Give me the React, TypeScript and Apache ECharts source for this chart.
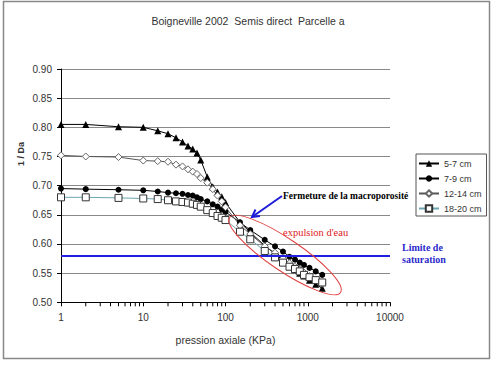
import React, { useEffect, useRef } from "react";
import * as echarts from "echarts";

const TITLE = "Boigneville 2002  Semis direct  Parcelle a";
const X_NAME = "pression axiale (KPa)";
const Y_NAME = "1 / Da";
const SERIES_NAMES = ["5-7 cm", "7-9 cm", "12-14 cm", "18-20 cm"];

const PRESSURE = [1, 2, 5, 10, 15, 20, 25, 30, 35, 40, 45, 50, 60, 70, 80, 90, 100, 150, 200, 300, 400, 500, 600, 700, 800, 900, 1050, 1250, 1500];

const S_5_7 = [0.805, 0.805, 0.801, 0.8, 0.794, 0.789, 0.782, 0.775, 0.768, 0.763, 0.756, 0.744, 0.715, 0.698, 0.689, 0.681, 0.671, 0.637, 0.62, 0.597, 0.583, 0.572, 0.563, 0.556, 0.55, 0.545, 0.538, 0.531, 0.524];
const S_7_9 = [0.695, 0.694, 0.693, 0.692, 0.69, 0.688, 0.687, 0.686, 0.684, 0.683, 0.68, 0.677, 0.673, 0.668, 0.664, 0.659, 0.655, 0.637, 0.624, 0.607, 0.596, 0.587, 0.578, 0.573, 0.568, 0.564, 0.559, 0.553, 0.547];
const S_12_14 = [0.752, 0.75, 0.749, 0.743, 0.742, 0.741, 0.736, 0.733, 0.728, 0.724, 0.72, 0.713, 0.705, 0.694, 0.683, 0.673, 0.663, 0.632, 0.617, 0.596, 0.585, 0.575, 0.567, 0.561, 0.556, 0.551, 0.545, 0.539, 0.532];
const S_18_20 = [0.68, 0.68, 0.679, 0.678, 0.677, 0.675, 0.673, 0.672, 0.671, 0.669, 0.667, 0.664, 0.658, 0.653, 0.648, 0.645, 0.641, 0.621, 0.608, 0.588, 0.577, 0.568, 0.561, 0.557, 0.553, 0.547, 0.543, 0.538, 0.534];

const SATURATION = 0.585;

const X_MINOR_TICKS = [2, 3, 4, 5, 6, 7, 8, 9, 20, 30, 40, 50, 60, 70, 80, 90, 200, 300, 400, 500, 600, 700, 800, 900, 2000, 3000, 4000, 5000, 6000, 7000, 8000, 9000];

const SANS = "'Liberation Sans', Arial, sans-serif";
const SERIF = "'Liberation Serif', 'Times New Roman', serif";

function pairs(vals: number[]) {
  return PRESSURE.map((p, i) => [p, vals[i]]);
}

export default function App() {
  const ref = useRef<HTMLDivElement>(null);
  useEffect(() => {
    if (!ref.current) return;
    const chart = echarts.init(ref.current, null, { renderer: "svg" });
    const arrowTip = [252, 217];
    const option: any = {
      animation: false,
      backgroundColor: "#ffffff",
      title: {
        text: TITLE,
        left: "center",
        top: 10,
        textStyle: { fontSize: 10.5, fontWeight: "normal", color: "#333", fontFamily: SANS },
      },
      grid: { left: 61, right: 106, top: 69, bottom: 64.7, containLabel: false },
      legend: {
        orient: "vertical",
        left: 416,
        top: 154,
        data: SERIES_NAMES,
        itemWidth: 20,
        itemHeight: 8,
        itemGap: 4,
        padding: [4, 5, 2, 2],
        borderColor: "#555",
        borderWidth: 1,
        textStyle: { fontSize: 9, color: "#333", fontFamily: SANS, lineHeight: 11 },
      },
      xAxis: {
        type: "log",
        logBase: 10,
        min: 1,
        max: 10000,
        name: X_NAME,
        nameLocation: "middle",
        nameGap: 32,
        nameTextStyle: { fontSize: 10.5, color: "#333", fontFamily: SANS },
        axisLine: { lineStyle: { color: "#000", width: 1 } },
        axisTick: { show: true, length: 4, lineStyle: { color: "#000" } },
        axisLabel: {
          fontSize: 10,
          color: "#333",
          fontFamily: SANS,
          margin: 10,
          formatter: (v: number) => String(Math.round(v)),
        },
        splitLine: { show: false },
        minorTick: { show: false },
      },
      yAxis: {
        type: "value",
        min: 0.5,
        max: 0.9,
        interval: 0.05,
        axisLine: { show: true, lineStyle: { color: "#000", width: 1 } },
        axisTick: { show: true, length: 4, lineStyle: { color: "#000" } },
        axisLabel: {
          fontSize: 10,
          color: "#333",
          fontFamily: SANS,
          margin: 9,
          formatter: (v: number) => v.toFixed(2),
        },
        splitLine: { show: true, lineStyle: { color: "#888", width: 1 } },
      },
      series: [
        {
          name: SERIES_NAMES[0],
          type: "line",
          data: pairs(S_5_7),
          symbol: "triangle",
          symbolSize: 7,
          lineStyle: { color: "#000", width: 1 },
          itemStyle: { color: "#000" },
          z: 3,
          markLine: {
            silent: true,
            symbol: ["none", "none"],
            label: { show: false },
            lineStyle: { color: "#2020e0", width: 2, type: "solid" },
            data: [{ yAxis: SATURATION }],
          },
        },
        {
          name: SERIES_NAMES[1],
          type: "line",
          data: pairs(S_7_9),
          symbol: "circle",
          symbolSize: 6,
          lineStyle: { color: "#000", width: 1 },
          itemStyle: { color: "#000" },
          z: 3,
        },
        {
          name: SERIES_NAMES[2],
          type: "line",
          data: pairs(S_12_14),
          symbol: "diamond",
          symbolSize: 7,
          lineStyle: { color: "#555", width: 1 },
          itemStyle: { color: "#fff", borderColor: "#666", borderWidth: 1 },
          z: 3,
        },
        {
          name: SERIES_NAMES[3],
          type: "line",
          data: pairs(S_18_20),
          symbol: "rect",
          symbolSize: 7,
          lineStyle: { color: "#6aa6b0", width: 1 },
          itemStyle: { color: "#fff", borderColor: "#333", borderWidth: 1 },
          z: 3,
        },
        {
          name: "minorTicks",
          type: "custom",
          silent: true,
          data: X_MINOR_TICKS.map((v) => [v, 0.5]),
          renderItem: (params: any, api: any) => {
            const p = api.coord([api.value(0), api.value(1)]);
            return {
              type: "line",
              shape: { x1: p[0], y1: p[1], x2: p[0], y2: p[1] + 4 },
              style: { stroke: "#000", lineWidth: 1 },
            };
          },
          z: 2,
        },
      ],
      graphic: [
        {
          type: "rect",
          shape: { x: 3.5, y: 1.5, width: 486, height: 357 },
          style: { fill: "none", stroke: "#888", lineWidth: 1.5 },
          silent: true,
        },
        {
          type: "text",
          x: 21,
          y: 154,
          rotation: Math.PI / 2,
          style: {
            text: Y_NAME,
            fontSize: 9,
            fontWeight: "bold",
            fontFamily: SANS,
            fill: "#333",
            align: "center",
            verticalAlign: "middle",
          },
        },
        {
          type: "ellipse",
          x: 285,
          y: 255,
          rotation: (-34 * Math.PI) / 180,
          shape: { cx: 0, cy: 0, rx: 67, ry: 16 },
          style: { fill: "none", stroke: "#e04040", lineWidth: 1 },
          z: 50,
        },
        {
          type: "polyline",
          shape: { points: [[282, 196], arrowTip] },
          style: { stroke: "#1c1cd8", lineWidth: 2, fill: "none" },
          z: 60,
        },
        {
          type: "polyline",
          shape: { points: [[255.5, 209.5], arrowTip, [260, 216]] },
          style: { stroke: "#1c1cd8", lineWidth: 2, fill: "none" },
          z: 60,
        },
        {
          type: "text",
          x: 283,
          y: 196,
          style: {
            text: "Fermeture de la macroporosité",
            fontSize: 9.5,
            fontWeight: "bold",
            fontFamily: SERIF,
            fill: "#000",
            align: "left",
            verticalAlign: "middle",
          },
          z: 60,
        },
        {
          type: "text",
          x: 283,
          y: 232,
          style: {
            text: "expulsion d'eau",
            fontSize: 10.5,
            fontFamily: SERIF,
            fill: "#e02020",
            align: "left",
            verticalAlign: "middle",
          },
          z: 60,
        },
        {
          type: "text",
          x: 402,
          y: 247,
          style: {
            text: "Limite de",
            fontSize: 10,
            fontWeight: "bold",
            fontFamily: SERIF,
            fill: "#2a2acc",
            align: "left",
            verticalAlign: "middle",
          },
          z: 60,
        },
        {
          type: "text",
          x: 402,
          y: 259.5,
          style: {
            text: "saturation",
            fontSize: 10,
            fontWeight: "bold",
            fontFamily: SERIF,
            fill: "#2a2acc",
            align: "left",
            verticalAlign: "middle",
          },
          z: 60,
        },
      ],
    };
    chart.setOption(option);
    return () => chart.dispose();
  }, []);
  return (
    <div
      ref={ref}
      style={{ position: "absolute", left: 0, top: 0, width: 496, height: 367 }}
    />
  );
}
